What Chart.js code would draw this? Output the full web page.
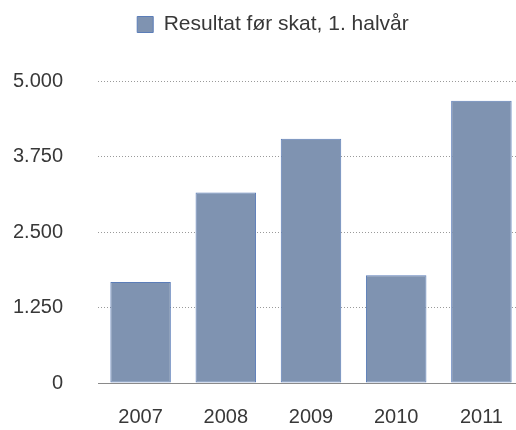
<!DOCTYPE html>
<html>
<head>
<meta charset="utf-8">
<script src="https://cdn.jsdelivr.net/npm/chart.js@4/dist/chart.umd.min.js"></script>
<style>
  html, body { margin: 0; padding: 0; background: #fff; overflow: hidden; }
  #outer { position: relative; width: 516px; height: 430px; overflow: hidden; }
  #resultChart { position: absolute; left: 0; top: 0; }
</style>
</head>
<body>
<div id="outer">
  <canvas id="resultChart" width="526" height="430"></canvas>
</div>
<script>
// -------------------------------
// Data --------------------------
// -------------------------------
const years = ["2007", "2008", "2009", "2010", "2011"];
const resultBeforeTax = [1672, 3154, 4042, 1786, 4675];
const yTicks = [0, 1250, 2500, 3750, 5000];
const seriesLabel = "Resultat før skat, 1. halvår";

const textColor = "#383838";
const font = { family: "'Liberation Sans', Arial, sans-serif", size: 20 };
const legendFont = { family: "'Liberation Sans', Arial, sans-serif", size: 21 };

// extra space under the legend, and nudge it a bit to the right
const legendMargin = {
  id: "legendMargin",
  beforeInit(chart) {
    const fit = chart.legend.fit;
    chart.legend.fit = function () {
      fit.bind(chart.legend)();
      this.height += 36;
    };
  },
  afterLayout(chart) {
    chart.legend.left += 11;
    chart.legend.right += 11;
  },
};

// -------------------------------
// Chart -------------------------
// -------------------------------
const ctx = document.getElementById("resultChart").getContext("2d");
const resultChart = new Chart(ctx, {
  type: "bar",
  data: {
    labels: years,
    datasets: [
      {
        label: seriesLabel,
        data: resultBeforeTax,
        backgroundColor: "#7f93b1",
        borderColor: "#5b7db8",
        borderWidth: 1,
        borderSkipped: false,
        barPercentage: 0.71,
        categoryPercentage: 1,
      },
    ],
  },
  plugins: [legendMargin],
  options: {
    responsive: false,
    animation: false,
    layout: { padding: { top: 4, right: 2, bottom: 0, left: 0 } },
    plugins: {
      legend: {
        display: true,
        position: "top",
        labels: {
          color: textColor,
          font: legendFont,
          boxWidth: 16,
          boxHeight: 16,
          padding: 10,
        },
      },
      tooltip: { enabled: false },
    },
    scales: {
      x: {
        grid: { display: false, drawTicks: false },
        border: { display: true, color: "#8a8a8a", width: 1 },
        ticks: { color: textColor, font: font, padding: 22 },
        afterFit: (scale) => { scale.height = 41; },
      },
      y: {
        min: 0,
        max: 5000,
        afterBuildTicks: (scale) => {
          scale.ticks = yTicks.map((v) => ({ value: v }));
        },
        grid: {
          drawTicks: false,
          color: (c) => (c.tick && c.tick.value === 0 ? "rgba(0,0,0,0)" : "#9a9a9a"),
          lineWidth: 1,
        },
        border: { display: false, dash: [1, 2] },
        ticks: {
          color: textColor,
          font: font,
          padding: 35,
          callback: (v) => v.toLocaleString("da-DK"),
        },
        afterFit: (scale) => { scale.width = 98; },
      },
    },
  },
});
</script>
</body>
</html>
